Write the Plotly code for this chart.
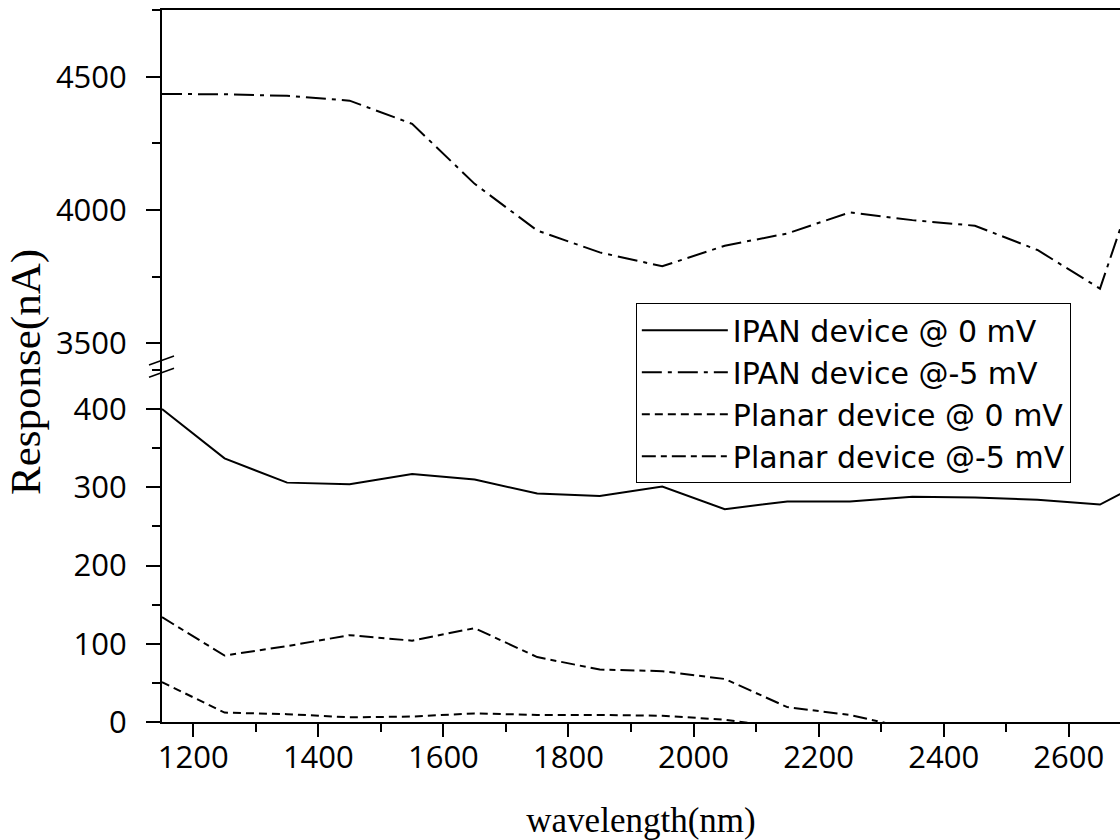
import plotly.graph_objects as go

# ---------------- data ----------------
wavelength = [1150, 1250, 1350, 1450, 1550, 1650, 1750, 1850, 1950, 2050,
              2150, 2250, 2350, 2450, 2550, 2650, 2750]
ipan_0mv = [400, 337, 306, 304, 317, 310, 292, 289, 301, 272,
            282, 282, 288, 287, 284, 278, 320]
ipan_m5mv = [4435, 4434, 4428, 4410, 4323, 4098, 3923, 3841, 3789, 3866,
             3912, 3991, 3962, 3941, 3850, 3705, 4400]
planar_0mv = [51, 12, 10, 6, 7, 11, 9, 9, 8, 3,
              -8, -12, -15, -15, -18, -20, -15]
planar_m5mv = [134, 85, 97, 111, 104, 120, 83, 67, 65, 55,
               19, 9, -9, -15, -20, -25, -20]

series_names = ["IPAN device @ 0 mV", "IPAN device @-5 mV",
                "Planar device @ 0 mV", "Planar device @-5 mV"]

x_ticks = [1200, 1400, 1600, 1800, 2000, 2200, 2400, 2600]
low_ticks = [0, 100, 200, 300, 400]
high_ticks = [3500, 4000, 4500]

# ---------------- figure ----------------
W, H = 1120, 840
ML, MR, MT, MB = 162, 0, 10, 118
split = 0.4944

tick_font = dict(family="Open Sans, Noto Sans, sans-serif", size=31, color="black")
xtitle_font = dict(family="Liberation Serif, Times New Roman, serif", size=35, color="black")
ytitle_font = dict(family="Liberation Serif, Times New Roman, serif", size=43, color="black")

fig = go.Figure()

fig.add_trace(go.Scatter(x=wavelength, y=ipan_0mv, name=series_names[0], mode="lines",
                         line=dict(color="black", width=2, dash="solid"),
                         xaxis="x", yaxis="y"))
fig.add_trace(go.Scatter(x=wavelength, y=ipan_m5mv, name=series_names[1], mode="lines",
                         line=dict(color="black", width=2, dash="20px,6px,4px,6px"),
                         xaxis="x2", yaxis="y2"))
fig.add_trace(go.Scatter(x=wavelength, y=planar_0mv, name=series_names[2], mode="lines",
                         line=dict(color="black", width=2, dash="8px,5px"),
                         xaxis="x", yaxis="y"))
fig.add_trace(go.Scatter(x=wavelength, y=planar_m5mv, name=series_names[3], mode="lines",
                         line=dict(color="black", width=2, dash="14px,5px,6px,5px"),
                         xaxis="x", yaxis="y"))

xr = [1150, 2682]

fig.update_layout(
    width=W, height=H,
    margin=dict(l=ML, r=MR, t=MT, b=MB),
    paper_bgcolor="white", plot_bgcolor="white",
    showlegend=True,
    legend=dict(x=0.4946, y=0.588, xanchor="left", yanchor="top",
                bgcolor="white", bordercolor="black", borderwidth=1,
                font=dict(family="DejaVu Sans, Open Sans, sans-serif", size=30, color="black"),
                itemwidth=86, tracegroupgap=0),
    xaxis=dict(domain=[0, 1], anchor="y", range=xr,
               tickmode="array", tickvals=x_ticks, ticktext=[str(v) for v in x_ticks],
               ticks="outside", ticklen=13, tickwidth=1.5, tickcolor="black",
               minor=dict(dtick=100, tick0=1100, ticks="outside", ticklen=8,
                          tickwidth=1.5, tickcolor="black"),
               showline=True, linecolor="black", linewidth=2,
               showgrid=False, zeroline=False, tickfont=tick_font,
               ticklabelstandoff=-6,
               title=dict(text="wavelength(nm)", font=xtitle_font, standoff=36)),
    xaxis2=dict(domain=[0, 1], anchor="y2", matches="x", range=xr, side="top",
                showticklabels=False, ticks="", showline=True,
                linecolor="black", linewidth=2, showgrid=False, zeroline=False),
    yaxis=dict(domain=[0, split], anchor="x", range=[0, 450],
               tickmode="array", tickvals=low_ticks, ticktext=[str(v) for v in low_ticks],
               ticks="outside", ticklen=14, tickwidth=1.5, tickcolor="black",
               minor=dict(dtick=50, tick0=0, ticks="outside", ticklen=8,
                          tickwidth=1.5, tickcolor="black"),
               showline=True, linecolor="black", linewidth=2,
               showgrid=False, zeroline=False, tickfont=tick_font,
               ticklabelstandoff=13),
    yaxis2=dict(domain=[split, 1], anchor="x2", range=[3400, 4750],
                tickmode="array", tickvals=high_ticks, ticktext=[str(v) for v in high_ticks],
                ticks="outside", ticklen=14, tickwidth=1.5, tickcolor="black",
                minor=dict(dtick=250, tick0=3500, ticks="outside", ticklen=8,
                           tickwidth=1.5, tickcolor="black"),
                showline=True, linecolor="black", linewidth=2,
                showgrid=False, zeroline=False, tickfont=tick_font,
                ticklabelstandoff=13),
)

# y-axis title (spans both panels)
pw = W - ML - MR
ph = H - MT - MB
def px_x(px):
    return (px - ML) / pw
def px_y(py):
    return (H - MB - py) / ph

fig.add_annotation(text="Response(nA)", xref="paper", yref="paper",
                   x=px_x(26), y=px_y(372), textangle=-90, showarrow=False,
                   xanchor="center", yanchor="middle", font=ytitle_font)

# axis-break marks
for y0, y1 in [(365, 356), (377.3, 368.3)]:
    fig.add_shape(type="line", xref="paper", yref="paper",
                  x0=px_x(149), y0=px_y(y0), x1=px_x(174), y1=px_y(y1),
                  line=dict(color="black", width=1.5))

fig.write_html("out.html")
